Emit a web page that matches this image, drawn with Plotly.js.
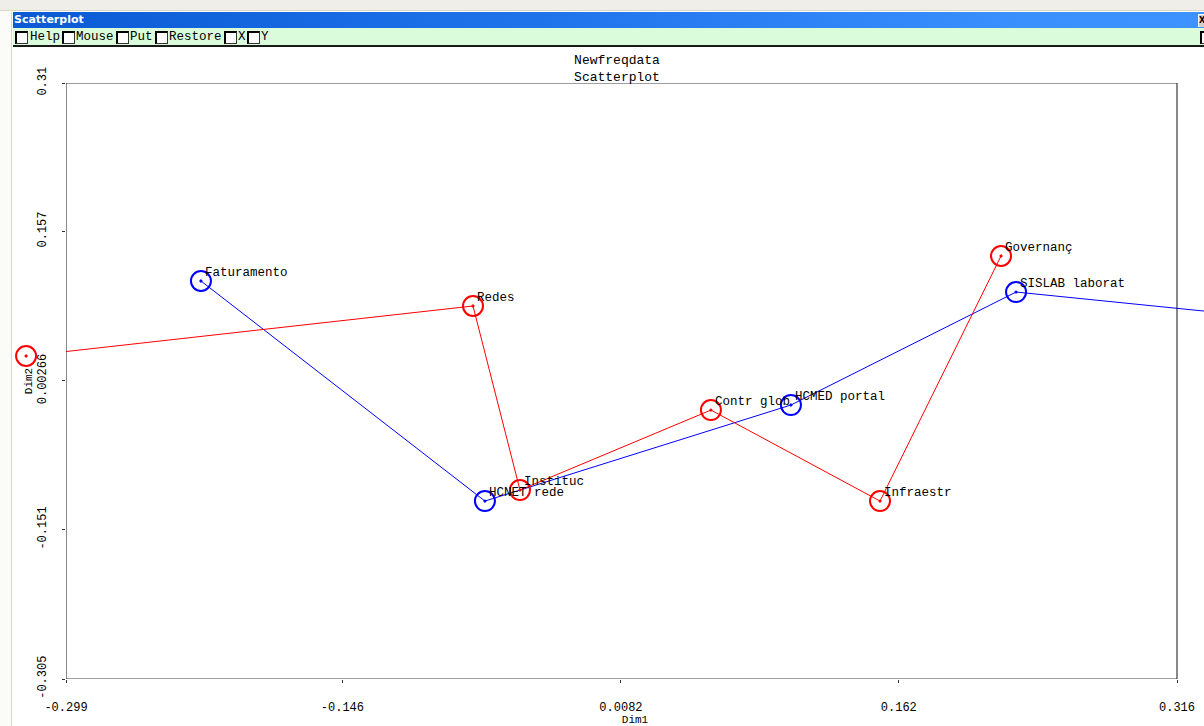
<!DOCTYPE html>
<html>
<head>
<meta charset="utf-8">
<script src="https://cdn.plot.ly/plotly-3.0.1.min.js"></script>
<style>
  html, body { margin:0; padding:0; width:1204px; height:726px; overflow:hidden; background:#ffffff; }
  #plot { position:absolute; left:0; top:0; width:1204px; height:726px; z-index:0; }
  .chrome { position:absolute; z-index:2; }
  #topstrip { left:0; top:0; width:1204px; height:10px; background:#efeee9; border-bottom:1px solid #d9d6c8; }
  #topstrip2 { left:0; top:11px; width:1204px; height:1px; background:#fbfbf8; }
  #leftstrip { left:0; top:12px; width:11px; height:714px; background:#fbfbf8; border-right:1px solid #dcd8c6; }
  #titlebar { left:13px; top:12px; width:1191px; height:16px;
     background:linear-gradient(to right, #0a5ad4 0%, #1f74ec 45%, #3a90fd 85%, #3c93ff 100%);
     color:#fff; font:bold 11px "DejaVu Sans", sans-serif; line-height:16px; }
  #titlebar span { position:absolute; left:1px; top:0; }
  #toolbar { left:13px; top:28px; width:1191px; height:17px; background:#dbfcdb; border-bottom:2px solid #1a1a1a; }
  .cb { position:absolute; top:3px; width:10px; height:10px; border-top:2px solid #000; border-left:2px solid #000;
        border-right:1px solid #333; border-bottom:1px solid #333; background:#fff; }
  .lbl { position:absolute; top:1px; font:12.5px "Liberation Mono", monospace; color:#000; line-height:16px; }
  #xbtn { left:1198px; top:14px; width:6px; height:12px; background:#d4d0c8; border-top:1px solid #fff; border-left:1px solid #fff;
          font:bold 8px "DejaVu Sans", sans-serif; line-height:12px; color:#000; text-indent:0px; }
</style>
</head>
<body>
<div id="plot"></div>
<div class="chrome" id="topstrip"></div>
<div class="chrome" id="topstrip2"></div>
<div class="chrome" id="leftstrip"></div>
<div class="chrome" id="titlebar"><span>Scatterplot</span></div>
<div class="chrome" id="toolbar">
  <div class="cb" style="left:2px"></div><div class="lbl" style="left:17px">Help</div>
  <div class="cb" style="left:49px"></div><div class="lbl" style="left:63px">Mouse</div>
  <div class="cb" style="left:103px"></div><div class="lbl" style="left:117px">Put</div>
  <div class="cb" style="left:142px"></div><div class="lbl" style="left:156px">Restore</div>
  <div class="cb" style="left:211px"></div><div class="lbl" style="left:225px">X</div>
  <div class="cb" style="left:234px"></div><div class="lbl" style="left:248px">Y</div>
  <div class="cb" style="left:1187px; border-right:none; width:6px"></div>
</div>
<div class="chrome" id="xbtn">X</div>
<script>
// ---- data ----
const blueNames = ['Faturamento', 'HCNET rede', 'HCMED portal', 'SISLAB laborat', ''];
const blueX = [-0.2243, -0.0671, 0.1023, 0.2269, 0.362];
const blueY = [0.1057, -0.1214, -0.0223, 0.0943, 0.0688];

const redNames = ['', 'Redes', 'Instituc', 'Contr glob', 'Infraestr', 'Governanç'];
const redX = [-0.3211, -0.0737, -0.0477, 0.058, 0.1516, 0.2186];
const redY = [0.0283, 0.0799, -0.110, -0.0275, -0.1214, 0.1315];

const xTickVals = [-0.299, -0.146, 0.0082, 0.162, 0.316];
const xTickText = ['-0.299', '-0.146', '0.0082', '0.162', '0.316'];
const yTickVals = [0.31, 0.157, 0.00266, -0.151, -0.305];
const yTickText = ['0.31', '0.157', '0.00266', '-0.151', '-0.305'];

const chartTitle = ['Newfreqdata', 'Scatterplot'];
const xTitle = 'Dim1';
const yTitle = 'Dim2';

// ---- build ----
const mono = '"Liberation Mono", "Courier New", monospace';
const W = 1204, H = 726;
const padL = 13;              // left edge of the drawing area (window border)
const frameL = 66;            // pixel of the frame's left side
const pxPerUnit = 1806.5;     // horizontal scale of the frame
const plotW = W - padL;
const x1Start = xTickVals[0];
const xEnd = x1Start + (W - frameL) / pxPerUnit;
const x2Start = x1Start - (frameL - padL) / pxPerUnit;

const markerStyle = (color) => ({ symbol: 'circle-open-dot', size: 20, color: color, line: { color: color, width: 2 } });

const traces = [
  { type: 'scatter', mode: 'lines+markers', x: blueX, y: blueY, xaxis: 'x', yaxis: 'y', cliponaxis: false,
    line: { color: '#0000ff', width: 1 }, marker: markerStyle('#0000ff'), hoverinfo: 'skip', showlegend: false },
  { type: 'scatter', mode: 'lines', x: redX, y: redY, xaxis: 'x', yaxis: 'y',
    line: { color: '#ff0000', width: 1 }, hoverinfo: 'skip', showlegend: false },
  { type: 'scatter', mode: 'markers', x: redX, y: redY, xaxis: 'x2', yaxis: 'y2', cliponaxis: false,
    marker: markerStyle('#ff0000'), hoverinfo: 'skip', showlegend: false }
];

const annotations = [];
function addLabels(names, xs, ys) {
  names.forEach((t, i) => {
    if (!t) return;
    annotations.push({
      x: xs[i], y: ys[i], xref: 'x', yref: 'y', text: t, showarrow: false,
      xanchor: 'left', yanchor: 'middle', xshift: 3, yshift: 8, borderpad: 0,
      font: { family: mono, size: 12.5, color: '#000' }
    });
  });
}
addLabels(blueNames, blueX, blueY);
addLabels(redNames, redX, redY);

const layout = {
  width: W, height: H, autosize: false,
  margin: { l: padL, r: 0, t: 83, b: 47, pad: 0 },
  paper_bgcolor: '#ffffff', plot_bgcolor: 'rgba(0,0,0,0)',
  title: {
    text: chartTitle.join('<br>'), xref: 'container', yref: 'container',
    x: 617 / W, xanchor: 'center', y: 1 - 64 / H, yanchor: 'top',
    font: { family: mono, size: 13, color: '#000' }
  },
  xaxis: {
    domain: [(frameL - padL) / plotW, 1], anchor: 'y',
    range: [x1Start, xEnd], tickmode: 'array', tickvals: xTickVals, ticktext: xTickText,
    ticks: 'outside', ticklen: 3, tickwidth: 1, tickcolor: '#333',
    showgrid: false, zeroline: false, showline: false, fixedrange: true,
    tickfont: { family: mono, size: 12, color: '#000' }, ticklabelstandoff: 14,
    title: { text: xTitle, font: { family: mono, size: 11, color: '#000' }, standoff: 2 }
  },
  yaxis: {
    domain: [0, 1], anchor: 'x',
    range: [yTickVals[yTickVals.length - 1], yTickVals[0]], tickmode: 'array', tickvals: yTickVals, ticktext: yTickText, tickangle: -90,
    ticks: 'outside', ticklen: 3, tickwidth: 1, tickcolor: '#333',
    showgrid: false, zeroline: false, showline: false, fixedrange: true,
    tickfont: { family: mono, size: 12, color: '#000' }, ticklabelstandoff: 11,
    title: { text: yTitle, font: { family: mono, size: 11, color: '#000' }, standoff: 1 }
  },
  xaxis2: { domain: [0, 1], anchor: 'y2', range: [x2Start, xEnd], visible: false, fixedrange: true },
  yaxis2: { domain: [0, 1], anchor: 'x2', range: [yTickVals[yTickVals.length - 1], yTickVals[0]], visible: false, fixedrange: true },
  shapes: [{
    type: 'rect', xref: 'x', yref: 'y', x0: xTickVals[0], x1: xTickVals[xTickVals.length - 1],
    y0: yTickVals[yTickVals.length - 1], y1: yTickVals[0], layer: 'below',
    line: { color: '#3a3a3a', width: 1.2 }
  }],
  annotations: annotations
};

Plotly.newPlot('plot', traces, layout, { displayModeBar: false, staticPlot: true });
</script>
</body>
</html>
